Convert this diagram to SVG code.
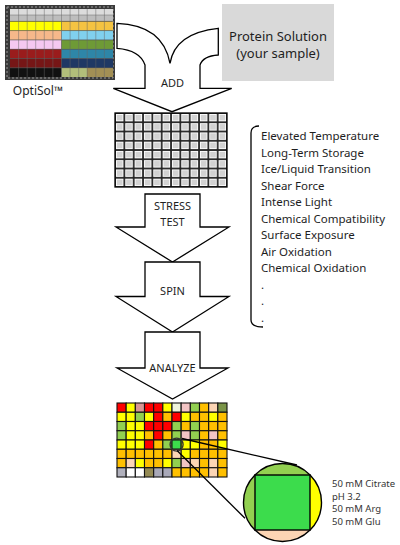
<svg xmlns="http://www.w3.org/2000/svg" width="400" height="545" viewBox="0 0 400 545">
<style>
text{font-family:"Noto Sans","Open Sans",sans-serif;fill:#1e1e1e}
.lbl{font-size:11px;text-anchor:middle}
.lst{font-size:11.5px}
.sm{font-size:9.5px;fill:#333}
.arrow{fill:#fff;stroke:#000;stroke-width:1.3;stroke-linejoin:miter}
.ln{stroke:#000;stroke-width:1.3;fill:none}
.hm rect{stroke:#111;stroke-width:1.1}
.R{fill:#ff0000}.Y{fill:#ffff00}.O{fill:#ffc000}.G{fill:#92d050}.P{fill:#fcd5b4}.K{fill:#f2c4c4}.D{fill:#d99694}.V{fill:#eef3dc}.L{fill:#7a9448}.W{fill:#ffffff}.A{fill:#b0b0bc}.N{fill:#948a54}.S{fill:#a8a8b8}.B{fill:#3cdc4c}
</style>
<defs>
<pattern id="cells" patternUnits="userSpaceOnUse" x="115" y="113" width="9.333" height="9.25">
<rect width="9.333" height="9.25" fill="#222"/>
<rect x="0.9" y="0.9" width="7.6" height="7.5" fill="#fff"/>
<rect x="1.8" y="1.8" width="5.8" height="5.7" fill="#d2d2d2"/>
</pattern>
<clipPath id="cc"><circle cx="282.5" cy="502.5" r="39"/></clipPath>
</defs>

<g id="optisol">
<rect x="5" y="5" width="110" height="75" fill="#3a3a3a"/>
<rect x="7" y="7" width="106" height="71" fill="none" stroke="#9a9a9a" stroke-width="1" stroke-dasharray="2 2"/>
<rect x="10" y="9" width="103" height="6" fill="#dcdcdc"/>
<rect x="10" y="15" width="103" height="6" fill="#bdbdbd"/>
<rect x="10" y="21.5" width="51.5" height="9" fill="#ffff00"/>
<rect x="61.5" y="21.5" width="51.5" height="9" fill="#f4c342"/>
<rect x="10" y="30.8" width="51.5" height="9" fill="#f6b88a"/>
<rect x="61.5" y="30.8" width="51.5" height="9" fill="#80d0ee"/>
<rect x="10" y="40.1" width="51.5" height="9" fill="#f5c8f0"/>
<rect x="61.5" y="40.1" width="51.5" height="9" fill="#6e9a36"/>
<rect x="10" y="49.4" width="51.5" height="9" fill="#9a1c1c"/>
<rect x="61.5" y="49.4" width="51.5" height="9" fill="#2e86a8"/>
<rect x="10" y="58.7" width="51.5" height="9" fill="#761616"/>
<rect x="61.5" y="58.7" width="51.5" height="9" fill="#1f3864"/>
<rect x="10" y="68" width="51.5" height="9" fill="#111"/>
<rect x="61.5" y="68" width="25.5" height="9" fill="#b2be7a"/>
<rect x="87" y="68" width="26" height="9" fill="#a28f55"/>
<path d="M18.6 9V77M27.2 9V77M35.7 9V77M44.3 9V77M52.9 9V77M61.5 9V77M70.1 9V77M78.7 9V77M87.2 9V77M95.8 9V77M104.4 9V77M10 15H113M10 21.3H113M10 30.6H113M10 39.9H113M10 49.2H113M10 58.5H113M10 67.8H113" stroke="#666" stroke-width="0.6" fill="none" opacity="0.8"/>
<text x="38" y="95" style="font-size:12px" text-anchor="middle">OptiSol™</text>
</g>

<g id="protein">
<rect x="222" y="4" width="112" height="77" fill="#d9d9d9"/>
<text x="278" y="41" style="font-size:13px" text-anchor="middle">Protein Solution</text>
<text x="278" y="58" style="font-size:13px" text-anchor="middle">(your sample)</text>
</g>

<g id="add">
<path class="arrow" d="M117 23.3 Q163 25 170 63.3 Q175 33 218.3 28.3 L218.3 55 Q203 56 200 65 L200 88.3 L231.7 88.3 L172 111.7 L113.3 88.3 L145 88.3 L145 65 Q140 50 117 48.3 Z"/>
<text class="lbl" x="172.5" y="87">ADD</text>
</g>

<g id="plate">
<rect x="115" y="113" width="112" height="74" fill="url(#cells)" stroke="#000" stroke-width="1.3"/>
</g>

<g id="stress">
<path class="arrow" d="M145 194 L200 194 L200 227 L229 227 L172.5 262 L116 227 L145 227 Z"/>
<text class="lbl" x="172.5" y="210">STRESS</text>
<text class="lbl" x="172.5" y="226">TEST</text>
</g>

<g id="spin">
<path class="arrow" d="M145 262 L200 262 L200 296.5 L229 296.5 L172.5 332 L116 296.5 L145 296.5 Z"/>
<text class="lbl" x="172.5" y="294.5">SPIN</text>
</g>

<g id="analyze">
<path class="arrow" d="M145 332 L200 332 L200 368 L228 368 L172.5 399 L117 368 L145 368 Z"/>
<text class="lbl" x="172.5" y="371.5">ANALYZE</text>
</g>

<g id="stresslist">
<path class="ln" d="M259 126 Q251 126 251 133 L251 320 Q251 327 263 327"/>
<text class="lst" x="261" y="140">Elevated Temperature</text>
<text class="lst" x="261" y="156.5">Long-Term Storage</text>
<text class="lst" x="261" y="173">Ice/Liquid Transition</text>
<text class="lst" x="261" y="189.5">Shear Force</text>
<text class="lst" x="261" y="206">Intense Light</text>
<text class="lst" x="261" y="222.5">Chemical Compatibility</text>
<text class="lst" x="261" y="239">Surface Exposure</text>
<text class="lst" x="261" y="255.5">Air Oxidation</text>
<text class="lst" x="261" y="272">Chemical Oxidation</text>
<text class="lst" x="261" y="288.5">.</text>
<text class="lst" x="261" y="305">.</text>
<text class="lst" x="261" y="321.5">.</text>
</g>

<g id="heatmap" class="hm">
<rect class="R" x="117" y="403" width="9.17" height="9.25"/><rect class="Y" x="126.17" y="403" width="9.17" height="9.25"/><rect class="D" x="135.33" y="403" width="9.17" height="9.25"/><rect class="R" x="144.5" y="403" width="9.17" height="9.25"/><rect class="R" x="153.67" y="403" width="9.17" height="9.25"/><rect class="Y" x="162.83" y="403" width="9.17" height="9.25"/><rect class="V" x="172" y="403" width="9.17" height="9.25"/><rect class="K" x="181.17" y="403" width="9.17" height="9.25"/><rect class="G" x="190.33" y="403" width="9.17" height="9.25"/><rect class="O" x="199.5" y="403" width="9.17" height="9.25"/><rect class="P" x="208.67" y="403" width="9.17" height="9.25"/><rect class="L" x="217.83" y="403" width="9.17" height="9.25"/>
<rect class="Y" x="117" y="412.25" width="9.17" height="9.25"/><rect class="Y" x="126.17" y="412.25" width="9.17" height="9.25"/><rect class="G" x="135.33" y="412.25" width="9.17" height="9.25"/><rect class="Y" x="144.5" y="412.25" width="9.17" height="9.25"/><rect class="R" x="153.67" y="412.25" width="9.17" height="9.25"/><rect class="O" x="162.83" y="412.25" width="9.17" height="9.25"/><rect class="R" x="172" y="412.25" width="9.17" height="9.25"/><rect class="Y" x="181.17" y="412.25" width="9.17" height="9.25"/><rect class="O" x="190.33" y="412.25" width="9.17" height="9.25"/><rect class="O" x="199.5" y="412.25" width="9.17" height="9.25"/><rect class="Y" x="208.67" y="412.25" width="9.17" height="9.25"/><rect class="O" x="217.83" y="412.25" width="9.17" height="9.25"/>
<rect class="G" x="117" y="421.5" width="9.17" height="9.25"/><rect class="Y" x="126.17" y="421.5" width="9.17" height="9.25"/><rect class="Y" x="135.33" y="421.5" width="9.17" height="9.25"/><rect class="R" x="144.5" y="421.5" width="9.17" height="9.25"/><rect class="R" x="153.67" y="421.5" width="9.17" height="9.25"/><rect class="R" x="162.83" y="421.5" width="9.17" height="9.25"/><rect class="G" x="172" y="421.5" width="9.17" height="9.25"/><rect class="O" x="181.17" y="421.5" width="9.17" height="9.25"/><rect class="G" x="190.33" y="421.5" width="9.17" height="9.25"/><rect class="O" x="199.5" y="421.5" width="9.17" height="9.25"/><rect class="O" x="208.67" y="421.5" width="9.17" height="9.25"/><rect class="O" x="217.83" y="421.5" width="9.17" height="9.25"/>
<rect class="G" x="117" y="430.75" width="9.17" height="9.25"/><rect class="Y" x="126.17" y="430.75" width="9.17" height="9.25"/><rect class="Y" x="135.33" y="430.75" width="9.17" height="9.25"/><rect class="O" x="144.5" y="430.75" width="9.17" height="9.25"/><rect class="R" x="153.67" y="430.75" width="9.17" height="9.25"/><rect class="O" x="162.83" y="430.75" width="9.17" height="9.25"/><rect class="G" x="172" y="430.75" width="9.17" height="9.25"/><rect class="K" x="181.17" y="430.75" width="9.17" height="9.25"/><rect class="G" x="190.33" y="430.75" width="9.17" height="9.25"/><rect class="O" x="199.5" y="430.75" width="9.17" height="9.25"/><rect class="K" x="208.67" y="430.75" width="9.17" height="9.25"/><rect class="O" x="217.83" y="430.75" width="9.17" height="9.25"/>
<rect class="Y" x="117" y="440" width="9.17" height="9.25"/><rect class="Y" x="126.17" y="440" width="9.17" height="9.25"/><rect class="Y" x="135.33" y="440" width="9.17" height="9.25"/><rect class="R" x="144.5" y="440" width="9.17" height="9.25"/><rect class="O" x="153.67" y="440" width="9.17" height="9.25"/><rect class="G" x="162.83" y="440" width="9.17" height="9.25"/><rect class="B" x="172" y="440" width="9.17" height="9.25"/><rect class="Y" x="181.17" y="440" width="9.17" height="9.25"/><rect class="Y" x="190.33" y="440" width="9.17" height="9.25"/><rect class="O" x="199.5" y="440" width="9.17" height="9.25"/><rect class="O" x="208.67" y="440" width="9.17" height="9.25"/><rect class="Y" x="217.83" y="440" width="9.17" height="9.25"/>
<rect class="O" x="117" y="449.25" width="9.17" height="9.25"/><rect class="O" x="126.17" y="449.25" width="9.17" height="9.25"/><rect class="O" x="135.33" y="449.25" width="9.17" height="9.25"/><rect class="O" x="144.5" y="449.25" width="9.17" height="9.25"/><rect class="O" x="153.67" y="449.25" width="9.17" height="9.25"/><rect class="O" x="162.83" y="449.25" width="9.17" height="9.25"/><rect class="P" x="172" y="449.25" width="9.17" height="9.25"/><rect class="Y" x="181.17" y="449.25" width="9.17" height="9.25"/><rect class="O" x="190.33" y="449.25" width="9.17" height="9.25"/><rect class="O" x="199.5" y="449.25" width="9.17" height="9.25"/><rect class="O" x="208.67" y="449.25" width="9.17" height="9.25"/><rect class="O" x="217.83" y="449.25" width="9.17" height="9.25"/>
<rect class="O" x="117" y="458.5" width="9.17" height="9.25"/><rect class="P" x="126.17" y="458.5" width="9.17" height="9.25"/><rect class="Y" x="135.33" y="458.5" width="9.17" height="9.25"/><rect class="O" x="144.5" y="458.5" width="9.17" height="9.25"/><rect class="O" x="153.67" y="458.5" width="9.17" height="9.25"/><rect class="Y" x="162.83" y="458.5" width="9.17" height="9.25"/><rect class="G" x="172" y="458.5" width="9.17" height="9.25"/><rect class="K" x="181.17" y="458.5" width="9.17" height="9.25"/><rect class="P" x="190.33" y="458.5" width="9.17" height="9.25"/><rect class="O" x="199.5" y="458.5" width="9.17" height="9.25"/><rect class="P" x="208.67" y="458.5" width="9.17" height="9.25"/><rect class="O" x="217.83" y="458.5" width="9.17" height="9.25"/>
<rect class="A" x="117" y="467.75" width="9.17" height="9.25"/><rect class="W" x="126.17" y="467.75" width="9.17" height="9.25"/><rect class="W" x="135.33" y="467.75" width="9.17" height="9.25"/><rect class="N" x="144.5" y="467.75" width="9.17" height="9.25"/><rect class="S" x="153.67" y="467.75" width="9.17" height="9.25"/><rect class="S" x="162.83" y="467.75" width="9.17" height="9.25"/><rect class="O" x="172" y="467.75" width="9.17" height="9.25"/><rect class="O" x="181.17" y="467.75" width="9.17" height="9.25"/><rect class="O" x="190.33" y="467.75" width="9.17" height="9.25"/><rect class="O" x="199.5" y="467.75" width="9.17" height="9.25"/><rect class="P" x="208.67" y="467.75" width="9.17" height="9.25"/><rect class="O" x="217.83" y="467.75" width="9.17" height="9.25"/>
</g>

<g id="connectors">
<circle cx="176.6" cy="444.6" r="6.5" fill="none" stroke="#333" stroke-width="1.4"/>
<line class="ln" x1="182" y1="438.5" x2="297" y2="465"/>
<line class="ln" x1="177" y1="450.5" x2="245" y2="518.3"/>
</g>

<g id="zoomwell">
<g clip-path="url(#cc)">
<rect x="240" y="460" width="90" height="85" fill="#92d050"/>
<rect x="310" y="460" width="20" height="85" fill="#ffff00"/>
<rect x="255" y="530" width="55" height="15" fill="#fcd5b4"/>
</g>
<circle cx="282.5" cy="502.5" r="39" fill="none" stroke="#000" stroke-width="1.4"/>
<rect x="255" y="475" width="55" height="55" fill="#3cdc4c" stroke="#000" stroke-width="1.4"/>
<text class="sm" x="332" y="486.5">50 mM Citrate</text>
<text class="sm" x="332" y="499.5">pH 3.2</text>
<text class="sm" x="332" y="512">50 mM Arg</text>
<text class="sm" x="332" y="524.5">50 mM Glu</text>
</g>
</svg>
